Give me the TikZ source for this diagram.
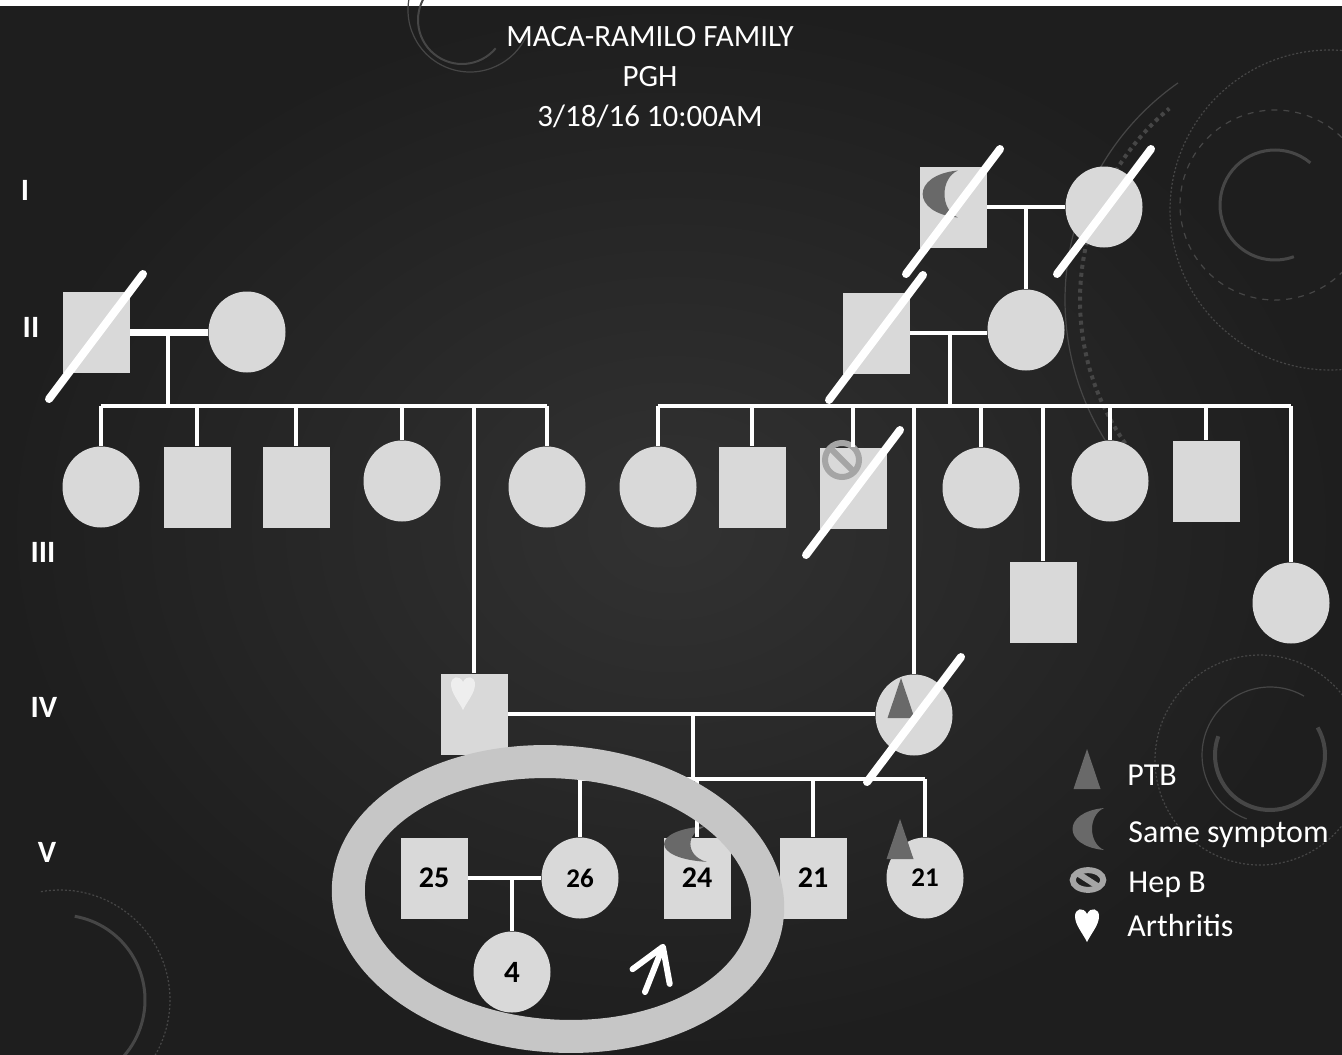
\documentclass[tikz,border=0pt]{standalone}
\usepackage{fontspec}
\setmainfont{Carlito}
\usetikzlibrary{arrows.meta,positioning,calc,shapes.geometric}
\definecolor{BgDark}{RGB}{30,30,30}
\definecolor{BgLight}{RGB}{50,50,50}
\definecolor{ShapeGray}{RGB}{217,217,217}
\definecolor{SymDark}{RGB}{105,105,105}
\definecolor{HepGray}{RGB}{165,165,165}
\definecolor{HeartLight}{RGB}{238,238,238}
\definecolor{RingGray}{RGB}{198,198,198}
\definecolor{DecoGray}{RGB}{70,70,70}
\tikzset{
  male/.style     ={rectangle, fill=ShapeGray, minimum width=33.5pt, minimum height=40.5pt,
                    inner sep=0pt, text=black, font=\fontsize{15}{15}\selectfont\bfseries},
  female/.style   ={ellipse, fill=ShapeGray, minimum width=38.5pt, minimum height=40.5pt,
                    inner sep=0pt, text=black, font=\fontsize{13.5}{14}\selectfont\bfseries},
  link/.style     ={draw=white, line width=2.2pt},
  deadline/.style ={draw=white, line width=4pt, line cap=round},
  ring/.style     ={draw=RingGray, line width=16.5pt},
  genlab/.style   ={text=white, anchor=base, inner sep=0pt, font=\fontsize{15.5}{16}\selectfont\bfseries},
  titletxt/.style ={text=white, align=center, inner sep=0pt, font=\fontsize{15.5}{20}\selectfont},
  legtxt/.style   ={text=white, inner sep=0pt, font=\fontsize{16}{18}\selectfont},
  deco/.style     ={draw=DecoGray, line width=1pt},
  proband/.style  ={draw=white, line width=3pt, line cap=round,
                    -{Straight Barb[length=16pt,width=20pt,round]}},
  pics/ptb/.style ={code={\fill[SymDark] (0,-20) -- (13.5,20) -- (-13.5,20) -- cycle;}},
  pics/crescent/.style={code={\fill[SymDark] (16,-21) .. controls (-26,-17) and (-26,17) .. (16,21)
                    .. controls (0,14) and (0,-14) .. cycle;}},
  pics/hepb/.style={code={\draw[HepGray,line width=3pt] (0,0) circle [radius=17];
                    \draw[HepGray,line width=3pt] (-11,-11) -- (11,11);}},
  pics/heart/.style={code={\fill[#1] (0,17) .. controls (-5,7) and (-12,0) .. (-12,-9)
                    .. controls (-12,-16) and (-4,-19) .. (0,-11)
                    .. controls (4,-19) and (12,-16) .. (12,-9)
                    .. controls (12,0) and (5,7) .. cycle;}},
  pics/heart/.default=white,
}
\newcommand{\deceased}[1]{\draw[deadline] ($(#1)+(-47,67)$) -- ($(#1)+(47,-58)$);}

\begin{document}
\begin{tikzpicture}[x=0.5pt,y=-0.5pt]
  \useasboundingbox (0,0) rectangle (1342,1054);
  \clip (0,0) rectangle (1342,1054);
  \shade[inner color=BgLight, outer color=BgDark] (0,0) rectangle (1342,1054);
  \fill[white] (0,0) rectangle (1342,6);

  % background ornaments
  \draw[deco] (462,20) ++(40:44) arc[start angle=40,end angle=260,radius=44];
  \draw[deco, line width=0.6pt] (470,10) ++(20:62) arc[start angle=20,end angle=200,radius=62];
  \draw[deco, line width=1.5pt] (1275,205) ++(-50:55) arc[start angle=-50,end angle=-290,radius=55];
  \draw[deco, dashed, line width=0.6pt] (1275,205) circle [radius=95];
  \draw[deco, densely dotted, line width=0.6pt] (1330,210) circle [radius=160];
  \draw[deco, line width=0.6pt] (1330,300) ++(140:265) arc[start angle=140,end angle=235,radius=265];
  \draw[deco, line width=2pt, dotted] (1330,300) ++(145:250) arc[start angle=145,end angle=230,radius=250];
  \draw[deco, line width=2pt] (1270,755) ++(-30:55) arc[start angle=-30,end angle=200,radius=55];
  \draw[deco, line width=0.6pt] (1270,755) ++(-60:68) arc[start angle=-60,end angle=-250,radius=68];
  \draw[deco, densely dotted, line width=0.6pt] (1260,760) circle [radius=105];
  \draw[deco, line width=1.5pt] (60,1000) ++(-80:85) arc[start angle=-80,end angle=60,radius=85];
  \draw[deco, densely dotted, line width=0.6pt] (60,1000) ++(-100:110) arc[start angle=-100,end angle=40,radius=110];

  % title and generations
  \node[titletxt, anchor=north] (title) at (650,26) {MACA-RAMILO FAMILY\\PGH\\3/18/16 10:00AM};
  \node[genlab] (gI)   at (25,200) {I};
  \node[genlab] (gII)  at (31,337) {II};
  \node[genlab] (gIII) at (43,562) {III};
  \node[genlab] (gIV)  at (44,717) {IV};
  \node[genlab] (gV)   at (47,862) {V};

  % generation I and II
  \node[male]   (i1)  at (953,207)  {};
  \node[female] (i2)  at (1104,207) {};
  \node[male]   (ii1) at (96,332)   {};
  \node[female] (ii2) at (247,332)  {};
  \node[male]   (ii3) at (876,333)  {};
  \node[female] (ii4) at (1026,330) {};

  % generation III
  \node[female] (iiia) at (101,487)  {};
  \node[male]   (iiib) at (197,487)  {};
  \node[male]   (iiic) at (296,487)  {};
  \node[female] (iiid) at (402,481)  {};
  \node[female] (iiie) at (547,487)  {};
  \node[female] (iiif) at (658,487)  {};
  \node[male]   (iiig) at (752,487)  {};
  \node[male]   (iiih) at (853,488)  {};
  \node[female] (iiii) at (981,488)  {};
  \node[male]   (iiij) at (1043,602) {};
  \node[female] (iiik) at (1110,481) {};
  \node[male]   (iiil) at (1206,481) {};
  \node[female] (iiim) at (1291,603) {};

  % generation IV and V
  \node[male]   (iva) at (474,714) {};
  \node[female] (ivb) at (914,715) {};
  \node[male]   (va)  at (434,878) {25};
  \node[female] (vb)  at (580,878) {26};
  \node[female, font=\fontsize{15.5}{16}\selectfont\bfseries] (vc) at (512,972) {4};
  \node[male]   (vd)  at (697,878) {24};
  \node[male]   (ve)  at (813,878) {21};
  \node[female] (vf)  at (925,878) {21};

  % conditions
  \pic[scale=1.12] at (940,194) {crescent};
  \pic at (842,460) {hepb};
  \pic at (463,693) {heart=HeartLight};
  \pic at (901,698) {ptb};
  \pic at (900,839) {ptb};
  \pic[xscale=1.35,yscale=0.85] at (685,844) {crescent};

  % lines of descent
  \draw[link] (i1.east) -- (i1.east -| i2.west);
  \draw[link] (ii4.north) -- (ii4.north |- i1.east);

  \draw[link, line width=3.5pt] (ii1.east) -- (ii1.east -| ii2.west);
  \coordinate (sibL) at (168,406);
  \draw[link] (sibL) -- (sibL |- ii1.east);
  \draw[link] (iiia.north |- sibL) -- (iiie.north |- sibL);
  \foreach \n in {iiia,iiib,iiic,iiid,iiie,iva}
    \draw[link] (\n.north) -- (\n.north |- sibL);

  \draw[link] (ii3.east) -- (ii3.east -| ii4.west);
  \coordinate (sibR) at (950,406);
  \draw[link] (sibR) -- (sibR |- ii3.east);
  \draw[link] (iiif.north |- sibR) -- (iiim.north |- sibR);
  \foreach \n in {iiif,iiig,iiih,iiii,iiij,iiik,iiil,iiim,ivb}
    \draw[link] (\n.north) -- (\n.north |- sibR);

  \draw[link] (iva.east) -- (iva.east -| ivb.west);
  \coordinate (sibV) at (693,779);
  \draw[link] (sibV) -- (sibV |- iva.east);
  \draw[link] (vb.north |- sibV) -- (vf.north |- sibV);
  \foreach \n in {vb,vd,ve,vf}
    \draw[link] (\n.north) -- (\n.north |- sibV);

  \draw[link] (va.east) -- (va.east -| vb.west);
  \draw[link] (vc.north) -- (vc.north |- va.east);

  % deceased
  \deceased{i1}
  \deceased{i2}
  \deceased{ii1}
  \deceased{ii3}
  \deceased{iiih}
  \deceased{ivb}

  % circled family and proband
  \draw[ring, rotate around={-4:(558,899)}] (558,899) ellipse [x radius=210, y radius=137];
  \coordinate (arrtail) at (645,992);
  \coordinate (arrtip)  at (664,944);
  \draw[proband] (arrtail) -- (arrtip);

  % legend
  \coordinate (lg1) at (1087,785);
  \coordinate (lg2) at (1088,842);
  \coordinate (lg3) at (1088,892);
  \coordinate (lg4) at (1087,936);
  \pic at ($(lg1)+(0,-16)$) {ptb};
  \pic at ($(lg2)+(0,-13)$) {crescent};
  \pic[xscale=0.9,yscale=0.58] at ($(lg3)+(0,-12)$) {hepb};
  \pic at ($(lg4)+(0,-11)$) {heart};
  \node[legtxt, base right=20pt of lg1] (l1) {PTB};
  \node[legtxt, base right=20pt of lg2] (l2) {Same symptom};
  \node[legtxt, base right=20pt of lg3] (l3) {Hep B};
  \node[legtxt, base right=20pt of lg4] (l4) {Arthritis};
\end{tikzpicture}
\end{document}
